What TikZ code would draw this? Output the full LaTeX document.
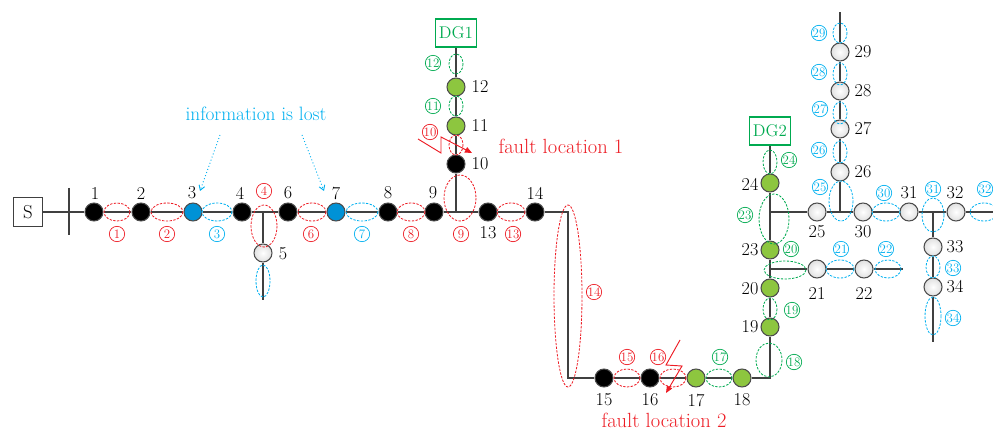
\documentclass[tikz,border=0pt]{standalone}
\usetikzlibrary{arrows.meta,backgrounds}
\definecolor{zred}{RGB}{237,28,36}
\definecolor{zblue}{RGB}{0,176,240}
\definecolor{zgreen}{RGB}{0,170,80}
\definecolor{nodeblue}{RGB}{0,146,214}
\definecolor{nodegreen}{RGB}{141,198,63}
\begin{document}
\begin{tikzpicture}[x=0.03cm, y=-0.03cm,
    bus/.style={circle, draw=black!70, line width=0.9pt, minimum size=0.54cm, inner sep=0pt},
    fb/.style={bus, fill=black},
    fu/.style={bus, fill=nodeblue},
    fg/.style={bus, fill=nodegreen},
    fw/.style={bus, inner color=white, outer color=black!12},
    num/.style={inner sep=0pt, font=\fontsize{15.5}{18}\selectfont},
    line/.style={draw=black!75, line width=1.1pt},
    zone/.style={dash pattern=on 2pt off 1.2pt, line width=0.7pt},
    rz/.style={zone, draw=zred},
    bz/.style={zone, draw=zblue},
    gz/.style={zone, draw=zgreen},
    zl/.style={circle, draw, line width=0.6pt, minimum size=0.46cm, inner sep=0pt, font=\fontsize{11}{11}\selectfont},
    rl/.style={zl, draw=zred, text=zred},
    bl/.style={zl, draw=zblue, text=zblue},
    gl/.style={zl, draw=zgreen, text=zgreen},
    dg/.style={draw=zgreen, text=zgreen, line width=0.9pt, minimum width=1.23cm, minimum height=0.84cm, inner sep=0pt, font=\fontsize{14.5}{16}\selectfont},
    ftext/.style={text=zred, inner sep=0pt, font=\fontsize{17.5}{20}\selectfont},
    fault/.style={draw=zred, line width=0.8pt, -{Triangle[length=6pt, width=5pt]}},
    lost/.style={draw=zblue, dotted, line width=0.8pt, -{Straight Barb[length=4pt, width=5pt]}}]
  \useasboundingbox (0,0) rectangle (993,430);

  % 電源と DG
  \node[draw=black!75, line width=0.9pt, minimum size=0.87cm, inner sep=0pt, font=\fontsize{16}{18}\selectfont] (s) at (28,212) {S};
  \node[dg] (dg1) at (456,33) {DG1};
  \node[dg] (dg2) at (770,131) {DG2};

  % ノードを置く
  \node[fb] (n1) at (94,212) {};
  \node[fb] (n2) at (141,212) {};
  \node[fu] (n3) at (193,212) {};
  \node[fb] (n4) at (242,212) {};
  \node[fw] (n5) at (263,253) {};
  \node[fb] (n6) at (288,212) {};
  \node[fu] (n7) at (336,212) {};
  \node[fb] (n8) at (388,212) {};
  \node[fb] (n9) at (434,212) {};
  \node[fb] (n10) at (456,164) {};
  \node[fg] (n11) at (456,126) {};
  \node[fg] (n12) at (456,87) {};
  \node[fb] (n13) at (488,212) {};
  \node[fb] (n14) at (535,212) {};
  \node[fb] (n15) at (604,378) {};
  \node[fb] (n16) at (650,378) {};
  \node[fg] (n17) at (696,378) {};
  \node[fg] (n18) at (742,378) {};
  \node[fg] (n19) at (770,327) {};
  \node[fg] (n20) at (770,288) {};
  \node[fw] (n21) at (817,269) {};
  \node[fw] (n22) at (864,269) {};
  \node[fg] (n23) at (770,250) {};
  \node[fg] (n24) at (770,183) {};
  \node[fw] (n25) at (817,212) {};
  \node[fw] (n26) at (840,172) {};
  \node[fw] (n27) at (840,129) {};
  \node[fw] (n28) at (840,91) {};
  \node[fw] (n29) at (840,52) {};
  \node[fw] (n30) at (863,212) {};
  \node[fw] (n31) at (909,212) {};
  \node[fw] (n32) at (956,212) {};
  \node[fw] (n33) at (933,247) {};
  \node[fw] (n34) at (933,287) {};

  % 分岐点
  \coordinate (j4) at (263,212);
  \coordinate (j9) at (456,212);
  \coordinate (c14) at (568,212);
  \coordinate (c15) at (568,378);
  \coordinate (c18) at (770,378);
  \coordinate (j21) at (770,269);
  \coordinate (j25) at (770,212);
  \coordinate (j26) at (840,212);
  \coordinate (j33) at (933,212);
  \coordinate (e5) at (263,300);
  \coordinate (e22) at (903,269);
  \coordinate (e29) at (840,12);
  \coordinate (e32) at (993,212);
  \coordinate (e34) at (933,342);

  % 線を引く
  \begin{scope}[on background layer]
    \draw[line] (s) -- (n1);
    \draw[line] (69,188) -- (69,235);
    \draw[line] (n1) -- (n2) -- (n3) -- (n4) -- (j4) -- (n6) -- (n7) -- (n8) -- (n9) -- (j9) -- (n13) -- (n14) -- (c14) -- (c15) -- (n15);
    \draw[line] (j4) -- (n5) -- (e5);
    \draw[line] (j9) -- (n10) -- (n11) -- (n12) -- (dg1);
    \draw[line] (n15) -- (n16) -- (n17) -- (n18) -- (c18) -- (n19) -- (n20) -- (j21) -- (n23) -- (j25) -- (n24) -- (dg2);
    \draw[line] (j21) -- (n21) -- (n22) -- (e22);
    \draw[line] (j25) -- (n25) -- (j26) -- (n30) -- (n31) -- (j33) -- (n32) -- (e32);
    \draw[line] (j26) -- (n26) -- (n27) -- (n28) -- (n29) -- (e29);
    \draw[line] (j33) -- (n33) -- (n34) -- (e34);
  \end{scope}

  % 番号を入れる
  \node[num] (l1) at (95,193) {1};
  \node[num] (l2) at (141,193) {2};
  \node[num] (l3) at (192,193) {3};
  \node[num] (l4) at (240,193) {4};
  \node[num] (l5) at (283,254) {5};
  \node[num] (l6) at (288,193) {6};
  \node[num] (l7) at (336,193) {7};
  \node[num] (l8) at (388,193) {8};
  \node[num] (l9) at (433,193) {9};
  \node[num] (l10) at (480,164) {10};
  \node[num] (l11) at (480,126) {11};
  \node[num] (l12) at (480,87) {12};
  \node[num] (l13) at (488,233) {13};
  \node[num] (l14) at (535,193) {14};
  \node[num] (l15) at (604,400) {15};
  \node[num] (l16) at (650,400) {16};
  \node[num] (l17) at (696,400) {17};
  \node[num] (l18) at (742,400) {18};
  \node[num] (l19) at (750,327) {19};
  \node[num] (l20) at (750,289) {20};
  \node[num] (l21) at (817,293) {21};
  \node[num] (l22) at (864,293) {22};
  \node[num] (l23) at (750,250) {23};
  \node[num] (l24) at (750,184) {24};
  \node[num] (l25) at (817,232) {25};
  \node[num] (l26) at (863,172) {26};
  \node[num] (l27) at (863,129) {27};
  \node[num] (l28) at (863,91) {28};
  \node[num] (l29) at (863,52) {29};
  \node[num] (l30) at (863,232) {30};
  \node[num] (l31) at (909,193) {31};
  \node[num] (l32) at (955,193) {32};
  \node[num] (l33) at (955,247) {33};
  \node[num] (l34) at (955,287) {34};

  % 区間を囲む
  \draw[rz] (117,212) ellipse [x radius=13, y radius=9];
  \draw[rz] (167,212) ellipse [x radius=16, y radius=9];
  \draw[bz] (217,212) ellipse [x radius=15, y radius=9];
  \draw[rz] (264,226) ellipse [x radius=13, y radius=21];
  \draw[bz] (263,281) ellipse [x radius=7, y radius=16];
  \draw[rz] (312,212) ellipse [x radius=14, y radius=9];
  \draw[bz] (362,212) ellipse [x radius=16, y radius=9];
  \draw[rz] (411,212) ellipse [x radius=14, y radius=9];
  \draw[rz] (460,198) ellipse [x radius=16, y radius=23];
  \draw[rz] (456,145) ellipse [x radius=7, y radius=10];
  \draw[gz] (456,106) ellipse [x radius=7, y radius=10];
  \draw[gz] (456,64) ellipse [x radius=7, y radius=10];
  \draw[rz] (511,212) ellipse [x radius=14, y radius=9];
  \draw[rz] (568,296) ellipse [x radius=14, y radius=91];
  \draw[rz] (627,378) ellipse [x radius=13, y radius=9];
  \draw[rz] (673,378) ellipse [x radius=13, y radius=9];
  \draw[gz] (719,378) ellipse [x radius=13, y radius=9];
  \draw[gz] (769,360) ellipse [x radius=13, y radius=17];
  \draw[gz] (770,309) ellipse [x radius=7, y radius=11];
  \draw[gz] (785,270) ellipse [x radius=21, y radius=9];
  \draw[bz] (840,269) ellipse [x radius=14, y radius=9];
  \draw[bz] (888,269) ellipse [x radius=13, y radius=9];
  \draw[gz] (774,219) ellipse [x radius=15, y radius=25];
  \draw[gz] (770,162) ellipse [x radius=7, y radius=12];
  \draw[bz] (841,201) ellipse [x radius=12, y radius=20];
  \draw[bz] (840,152) ellipse [x radius=7, y radius=11];
  \draw[bz] (840,113) ellipse [x radius=7, y radius=11];
  \draw[bz] (840,74) ellipse [x radius=7, y radius=11];
  \draw[bz] (840,33) ellipse [x radius=7, y radius=10];
  \draw[bz] (886,212) ellipse [x radius=14, y radius=9];
  \draw[bz] (933,215) ellipse [x radius=11, y radius=17];
  \draw[bz] (984,212) ellipse [x radius=14, y radius=9];
  \draw[bz] (933,267) ellipse [x radius=7, y radius=11];
  \draw[bz] (933,316) ellipse [x radius=8, y radius=19];

  % 区間番号
  \node[rl] (q1) at (117,234) {1};
  \node[rl] (q2) at (167,234) {2};
  \node[bl] (q3) at (217,234) {3};
  \node[rl] (q4) at (264,191) {4};
  \node[rl] (q6) at (311,234) {6};
  \node[bl] (q7) at (362,234) {7};
  \node[rl] (q8) at (411,234) {8};
  \node[rl] (q9) at (461,234) {9};
  \node[rl] (q10) at (430,132) {10};
  \node[gl] (q11) at (433,106) {11};
  \node[gl] (q12) at (433,63) {12};
  \node[rl] (q13) at (513,234) {13};
  \node[rl] (q14) at (594,292) {14};
  \node[rl] (q15) at (627,357) {15};
  \node[rl] (q16) at (658,357) {16};
  \node[gl] (q17) at (720,357) {17};
  \node[gl] (q18) at (794,362) {18};
  \node[gl] (q19) at (792,310) {19};
  \node[gl] (q20) at (791,249) {20};
  \node[bl] (q21) at (841,249) {21};
  \node[bl] (q22) at (886,249) {22};
  \node[gl] (q23) at (745,215) {23};
  \node[gl] (q24) at (789,160) {24};
  \node[bl] (q25) at (820,187) {25};
  \node[bl] (q26) at (819,150) {26};
  \node[bl] (q27) at (820,109) {27};
  \node[bl] (q28) at (819,72) {28};
  \node[bl] (q29) at (819,33) {29};
  \node[bl] (q30) at (884,193) {30};
  \node[bl] (q31) at (933,189) {31};
  \node[bl] (q32) at (985,189) {32};
  \node[bl] (q33) at (953,268) {33};
  \node[bl] (q34) at (953,318) {34};

  % 故障点
  \node[ftext] (f1) at (561,146) {fault location 1};
  \node[ftext] (f2) at (664,420) {fault location 2};
  \draw[fault] (418,139) -- (441,153) -- (441,137) -- (472,153);
  \draw[fault] (680,340) -- (666,365) -- (682,366) -- (666,393);

  % 情報の欠落
  \node[text=zblue, inner sep=0pt, font=\fontsize{16.5}{18}\selectfont] (info) at (256,114) {information is lost};
  \coordinate (a1) at (220,135);
  \coordinate (a2) at (200,191);
  \coordinate (a3) at (302,135);
  \coordinate (a4) at (324,191);
  \draw[lost] (a1) -- (a2);
  \draw[lost] (a3) -- (a4);

\end{tikzpicture}
\end{document}
